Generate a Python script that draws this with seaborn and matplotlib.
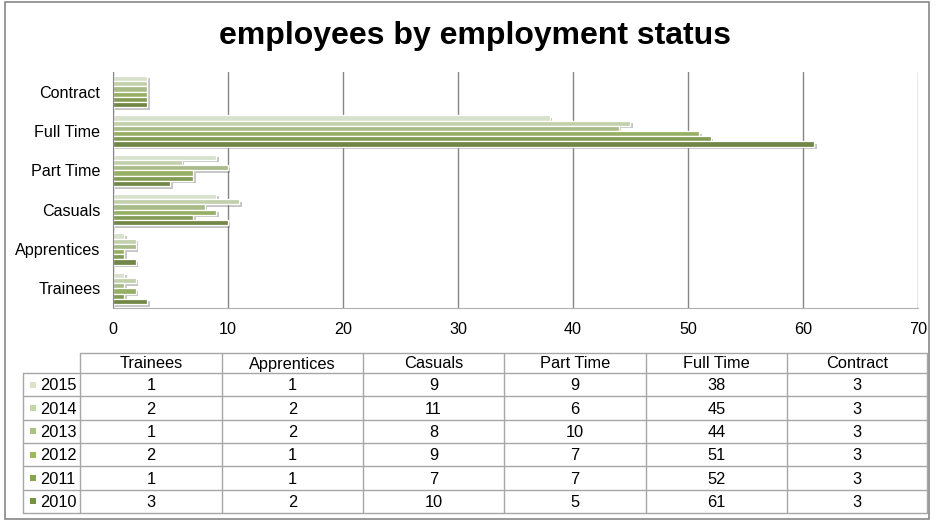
import matplotlib
matplotlib.use('Agg')
import matplotlib.pyplot as plt
import matplotlib.patheffects as pe
from matplotlib.patches import Rectangle
import seaborn as sns
import pandas as pd

categories = ['Trainees', 'Apprentices', 'Casuals', 'Part Time', 'Full Time', 'Contract']
years = ['2015', '2014', '2013', '2012', '2011', '2010']
v2015 = [1, 1, 9, 9, 38, 3]
v2014 = [2, 2, 11, 6, 45, 3]
v2013 = [1, 2, 8, 10, 44, 3]
v2012 = [2, 1, 9, 7, 51, 3]
v2011 = [1, 1, 7, 7, 52, 3]
v2010 = [3, 2, 10, 5, 61, 3]
series = [v2015, v2014, v2013, v2012, v2011, v2010]
colors = ['#d7e4c8', '#c3d6a5', '#aac47f', '#9bbb59', '#86a64a', '#76923c']
xticks = [0, 10, 20, 30, 40, 50, 60, 70]

rows = []
for y, vals in zip(years, series):
    for c, v in zip(categories, vals):
        rows.append({'year': y, 'category': c, 'value': v})
df = pd.DataFrame(rows)

sns.set_style('white')
plt.rcParams['font.family'] = ['Liberation Sans', 'DejaVu Sans']
plt.rcParams['text.color'] = 'black'

W, H = 937, 530
fig = plt.figure(figsize=(W / 100, H / 100), dpi=100)
fig.patch.set_facecolor('white')

ax = fig.add_axes([113 / W, 1 - 308 / H, (918 - 113) / W, (308 - 72) / H])
sns.barplot(data=df, y='category', x='value', hue='year',
            order=categories[::-1], hue_order=years,
            palette=dict(zip(years, colors)), orient='h', width=0.8,
            edgecolor='white', linewidth=0.9, ax=ax, legend=False, errorbar=None)
for p in ax.patches:
    p.set_path_effects([pe.SimplePatchShadow(offset=(1.8, -1.8), shadow_rgbFace='#707070', alpha=0.4),
                        pe.Normal()])
ax.set_xlim(0, 70)
ax.set_xticks(xticks)
ax.set_xticklabels([str(t) for t in xticks])
ax.set_xlabel('')
ax.set_ylabel('')
ax.grid(axis='x', color='#868686', linewidth=1)
ax.grid(axis='y', visible=False)
ax.set_axisbelow(True)
for s in ['top', 'right']:
    ax.spines[s].set_visible(False)
ax.spines['left'].set_color('#868686')
ax.spines['bottom'].set_color('#b0b0b0')
ax.tick_params(axis='x', length=0, pad=10, labelsize=11.6, colors='black')
ax.tick_params(axis='y', length=0, pad=9, labelsize=11.6, colors='black')

# overlay in pixel coordinates for border
ov = fig.add_axes([0, 0, 1, 1], zorder=-1)
ov.set_xlim(0, W)
ov.set_ylim(H, 0)
ov.axis('off')
ov.add_patch(Rectangle((5, 1.5), 924, 517, fill=False, edgecolor='#888888', linewidth=1.2))

fig.text(475 / W, 1 - 36 / H, 'employees by employment status', ha='center', va='center',
         fontsize=23, fontweight='bold', color='black')

tx = fig.add_axes([0, 0, 1, 1])
tx.set_xlim(0, W)
tx.set_ylim(H, 0)
tx.axis('off')
tx.patch.set_alpha(0)

col_edges = [80, 222, 363, 504, 646, 787, 927]
hdr_top, hdr_bot, tab_bot = 353, 373, 513
row_h = (tab_bot - hdr_bot) / len(years)
lc = '#a6a6a6'
tx.plot([80, 927], [hdr_top, hdr_top], color=lc, lw=1)
for i in range(len(years) + 1):
    y = hdr_bot + i * row_h
    tx.plot([23, 927], [y, y], color=lc, lw=1)
tx.plot([23, 23], [hdr_bot, tab_bot], color=lc, lw=1)
for x in col_edges:
    tx.plot([x, x], [hdr_top, tab_bot], color=lc, lw=1)

fs = 11.8
for j, c in enumerate(categories):
    cx = (col_edges[j] + col_edges[j + 1]) / 2
    tx.text(cx, (hdr_top + hdr_bot) / 2 + 1, c, ha='center', va='center', fontsize=fs, color='black')
for i, (y, vals) in enumerate(zip(years, series)):
    cy = hdr_bot + (i + 0.5) * row_h
    tx.add_patch(Rectangle((30, cy - 3), 6, 6, facecolor=colors[i], edgecolor='none'))
    tx.text(40, cy + 1, y, ha='left', va='center', fontsize=fs, color='black')
    for j, v in enumerate(vals):
        cx = (col_edges[j] + col_edges[j + 1]) / 2
        tx.text(cx, cy + 1, str(v), ha='center', va='center', fontsize=fs, color='black')

fig.savefig('out.png', dpi=100)
